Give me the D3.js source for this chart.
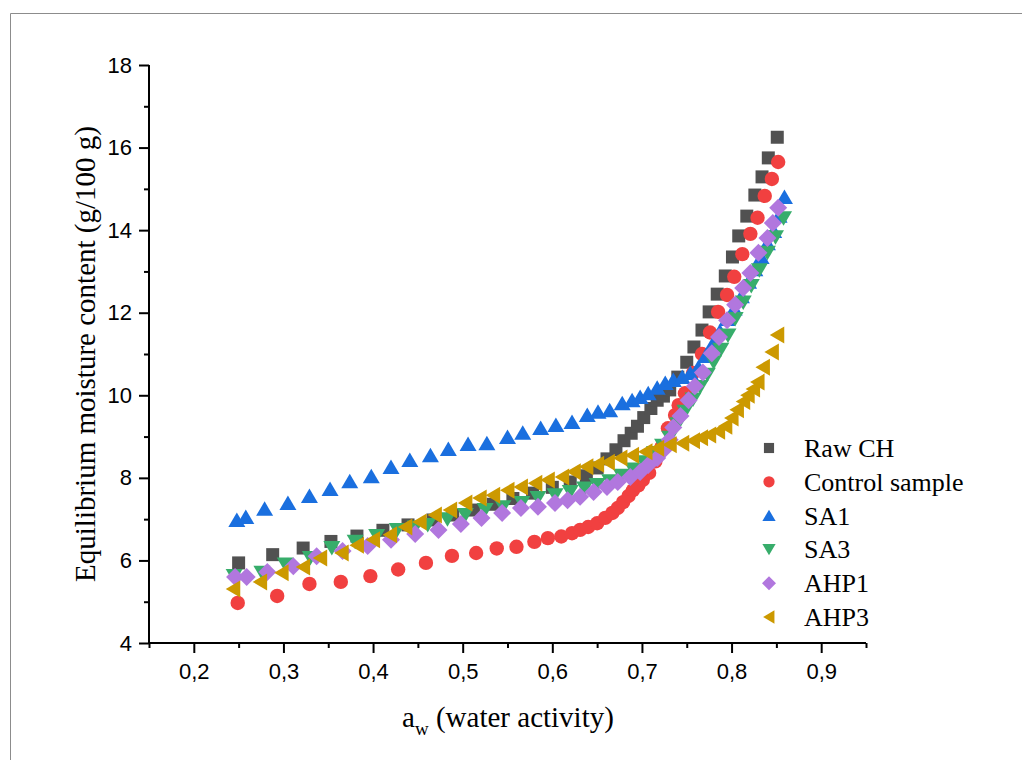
<!DOCTYPE html>
<html>
<head>
<meta charset="utf-8">
<script src="https://cdn.jsdelivr.net/npm/d3@7"></script>
<style>
  body { margin: 0; background: #fff; }
  .tick text { font-family: "Liberation Sans", Arial, sans-serif; font-size: 22px; fill: #000; }
  .axis path, .axis line { stroke: #000; stroke-width: 2; }
  .title, .legend text { font-family: "Liberation Serif", "Times New Roman", serif; fill: #000; }
</style>
</head>
<body>
<svg class="chart" width="1022" height="760"></svg>
<script>
// series names and colours (legend order)
const seriesNames = ['Raw CH', 'Control sample', 'SA1', 'SA3', 'AHP1', 'AHP3'];
const seriesColors = ['#515151', '#F14040', '#1A6FDF', '#37AD6B', '#B177DE', '#CC9900'];
const seriesShapes = ['square', 'circle', 'up', 'down', 'diamond', 'left'];

// values: aw (water activity) and moisture content (g/100 g)
const rawChAw = [0.250,0.288,0.322,0.353,0.382,0.411,0.439,0.467,0.489,0.512,0.534,0.556,0.578,0.600,0.620,0.638,0.650,0.661,0.671,0.680,0.688,0.695,0.702,0.710,0.717,0.724,0.731,0.740,0.750,0.758,0.767,0.775,0.784,0.793,0.801,0.808,0.817,0.826,0.834,0.841,0.851];
const rawChM = [5.94,6.14,6.30,6.46,6.59,6.73,6.86,6.98,7.10,7.22,7.36,7.50,7.63,7.77,7.90,8.05,8.24,8.46,8.68,8.90,9.08,9.25,9.46,9.68,9.88,9.98,10.13,10.44,10.80,11.17,11.58,12.02,12.45,12.89,13.35,13.86,14.34,14.85,15.29,15.75,16.25];

const controlAw = [0.249,0.293,0.329,0.364,0.397,0.428,0.459,0.488,0.515,0.538,0.560,0.580,0.595,0.610,0.622,0.631,0.640,0.650,0.659,0.667,0.673,0.679,0.685,0.690,0.696,0.701,0.708,0.715,0.722,0.729,0.737,0.741,0.748,0.757,0.767,0.776,0.785,0.795,0.803,0.812,0.821,0.829,0.837,0.845,0.852];
const controlM = [4.97,5.14,5.43,5.48,5.62,5.78,5.94,6.11,6.18,6.29,6.33,6.45,6.54,6.58,6.66,6.74,6.81,6.90,7.03,7.15,7.27,7.41,7.56,7.70,7.82,7.95,8.12,8.40,8.75,9.20,9.52,9.76,10.05,10.54,11.00,11.52,12.02,12.43,12.87,13.42,13.91,14.30,14.83,15.24,15.65];

const sa1Aw = [0.248,0.258,0.279,0.305,0.329,0.352,0.374,0.398,0.420,0.441,0.464,0.484,0.506,0.527,0.550,0.567,0.587,0.604,0.622,0.639,0.651,0.664,0.678,0.689,0.698,0.707,0.717,0.726,0.735,0.745,0.754,0.763,0.771,0.779,0.787,0.795,0.803,0.811,0.819,0.826,0.833,0.840,0.847,0.853,0.859];
const sa1M = [6.98,7.05,7.25,7.39,7.56,7.73,7.92,8.04,8.26,8.43,8.55,8.70,8.82,8.84,8.99,9.09,9.21,9.28,9.35,9.52,9.60,9.64,9.81,9.88,9.96,10.05,10.18,10.30,10.37,10.44,10.54,10.68,10.95,11.25,11.55,11.85,12.10,12.40,12.75,13.05,13.35,13.68,13.98,14.35,14.80];

const sa3Aw = [0.245,0.276,0.302,0.330,0.354,0.380,0.404,0.427,0.447,0.461,0.483,0.503,0.525,0.545,0.566,0.584,0.603,0.620,0.636,0.650,0.664,0.677,0.690,0.702,0.714,0.723,0.731,0.740,0.748,0.757,0.765,0.773,0.780,0.788,0.796,0.804,0.813,0.822,0.831,0.840,0.849,0.858];
const sa3M = [5.62,5.70,5.90,6.06,6.30,6.45,6.59,6.74,6.80,6.86,7.00,7.10,7.22,7.29,7.39,7.51,7.58,7.66,7.74,7.83,7.92,8.05,8.20,8.38,8.60,8.78,8.97,9.30,9.60,9.90,10.20,10.50,10.80,11.10,11.45,11.85,12.25,12.65,13.03,13.45,13.83,14.29];

const ahp1Aw = [0.246,0.259,0.282,0.311,0.337,0.366,0.394,0.420,0.447,0.473,0.498,0.521,0.544,0.565,0.584,0.603,0.617,0.631,0.646,0.661,0.673,0.687,0.698,0.707,0.717,0.724,0.731,0.735,0.743,0.752,0.759,0.768,0.778,0.786,0.795,0.804,0.813,0.821,0.830,0.840,0.846,0.852];
const ahp1M = [5.60,5.60,5.72,5.86,6.10,6.23,6.35,6.50,6.64,6.74,6.88,7.03,7.15,7.27,7.30,7.39,7.46,7.54,7.66,7.78,7.90,8.02,8.14,8.31,8.48,8.67,8.92,9.22,9.50,9.88,10.22,10.55,11.02,11.41,11.82,12.19,12.60,12.96,13.45,13.81,14.17,14.54];

const ahp3Aw = [0.244,0.274,0.298,0.322,0.341,0.365,0.382,0.400,0.419,0.436,0.452,0.469,0.486,0.503,0.519,0.534,0.550,0.565,0.581,0.595,0.611,0.624,0.638,0.650,0.662,0.676,0.689,0.704,0.717,0.731,0.745,0.757,0.766,0.775,0.785,0.793,0.800,0.806,0.813,0.818,0.824,0.829,0.835,0.845,0.851];
const ahp3M = [5.31,5.48,5.70,5.84,6.06,6.18,6.37,6.50,6.62,6.81,6.93,7.10,7.22,7.39,7.51,7.58,7.70,7.78,7.87,7.95,8.02,8.15,8.27,8.33,8.38,8.48,8.55,8.63,8.72,8.80,8.84,8.90,8.97,9.04,9.13,9.25,9.45,9.65,9.85,10.00,10.15,10.32,10.68,11.05,11.46];

const xTicks = [0.2, 0.3, 0.4, 0.5, 0.6, 0.7, 0.8, 0.9];
const yTicks = [4, 6, 8, 10, 12, 14, 16, 18];

const allAw = [rawChAw, controlAw, sa1Aw, sa3Aw, ahp1Aw, ahp3Aw];
const allM = [rawChM, controlM, sa1M, sa3M, ahp1M, ahp3M];

makeChart();

// marker outline for a given shape, scaled by k
function shapePath(shape, k) {
    var s = k;
    switch (shape) {
        case 'square': return 'M' + (-6.5*s) + ',' + (-6.5*s) + 'h' + 13*s + 'v' + 13*s + 'h' + (-13*s) + 'Z';
        case 'circle': return d3.symbol(d3.symbolCircle, Math.PI * 7.2 * 7.2 * s * s)();
        case 'up': return 'M0,' + (-7.5*s) + 'L' + 8.5*s + ',' + 7*s + 'L' + (-8.5*s) + ',' + 7*s + 'Z';
        case 'down': return 'M0,' + 7.5*s + 'L' + 8.5*s + ',' + (-7*s) + 'L' + (-8.5*s) + ',' + (-7*s) + 'Z';
        case 'diamond': return 'M0,' + (-9*s) + 'L' + 9*s + ',0L0,' + 9*s + 'L' + (-9*s) + ',0Z';
        case 'left': return 'M' + (-7.5*s) + ',0L' + 7*s + ',' + (-8.5*s) + 'L' + 7*s + ',' + 8.5*s + 'Z';
    }
}

function makeChart() {
    var margins = { top: 65, right: 156, left: 149, bottom: 117 };
    var svg = d3.select('.chart');
    const width = svg.attr('width') - margins.left - margins.right;
    const height = svg.attr('height') - margins.top - margins.bottom;

    // thin frame round the figure
    svg.append('path')
        .attr('d', 'M10.5,760 V13.5 H1022')
        .attr('fill', 'none')
        .attr('stroke', '#8c8c8c')
        .attr('stroke-width', 1);

    var g = svg.append('g')
        .attr('transform', 'translate(' + margins.left + ',' + margins.top + ')');

    var x = d3.scaleLinear().domain([0.15, 0.95]).range([0, width]);
    var y = d3.scaleLinear().domain([4, 18]).range([height, 0]);

    //axes with major labelled ticks, then unlabelled minor ticks
    g.append('g')
        .attr('class', 'axis')
        .attr('transform', 'translate(0,' + height + ')')
        .call(d3.axisBottom(x).tickValues(xTicks).tickSize(10).tickPadding(10)
            .tickFormat(d => d3.format('.1f')(d).replace('.', ',')))
        .call(a => a.select('.domain').attr('d', 'M0,0H' + width));
    g.append('g')
        .attr('class', 'axis')
        .attr('transform', 'translate(0,' + height + ')')
        .call(d3.axisBottom(x).tickValues(d3.range(0.15, 0.96, 0.1)).tickSize(5).tickFormat(''))
        .call(a => a.select('.domain').remove());

    g.append('g')
        .attr('class', 'axis')
        .call(d3.axisLeft(y).tickValues(yTicks).tickSize(10).tickPadding(7))
        .call(a => a.select('.domain').attr('d', 'M0,0V' + height));
    g.append('g')
        .attr('class', 'axis')
        .call(d3.axisLeft(y).tickValues([5, 7, 9, 11, 13, 15, 17]).tickSize(5).tickFormat(''))
        .call(a => a.select('.domain').remove());

    // points, series drawn in legend order
    seriesNames.forEach((name, i) => {
        var pts = allAw[i].map((a, j) => ({ aw: a, m: allM[i][j] }));
        g.append('g').selectAll('path')
            .data(pts)
            .enter().append('path')
            .attr('d', shapePath(seriesShapes[i], 1))
            .attr('transform', d => 'translate(' + x(d.aw) + ',' + y(d.m) + ')')
            .attr('fill', seriesColors[i]);
    });

    // legend
    var legend = svg.append('g').attr('class', 'legend');
    seriesNames.forEach((name, i) => {
        var row = legend.append('g').attr('transform', 'translate(769,' + (448 + i * 33.8) + ')');
        row.append('path').attr('d', shapePath(seriesShapes[i], 0.78)).attr('fill', seriesColors[i]);
        row.append('text').attr('x', 35).attr('y', 9).style('font-size', '26px').text(name);
    });

    // axis titles
    svg.append('text')
        .attr('class', 'title')
        .attr('transform', 'translate(95,354) rotate(-90)')
        .attr('text-anchor', 'middle')
        .style('font-size', '29px')
        .text('Equilibrium moisture content (g/100 g)');

    var xt = svg.append('text')
        .attr('class', 'title')
        .attr('x', 508).attr('y', 727)
        .attr('text-anchor', 'middle')
        .style('font-size', '29px');
    xt.append('tspan').text('a');
    xt.append('tspan').attr('dy', 8).style('font-size', '19px').text('w');
    xt.append('tspan').attr('dy', -8).text(' (water activity)');
}
</script>
</body>
</html>
